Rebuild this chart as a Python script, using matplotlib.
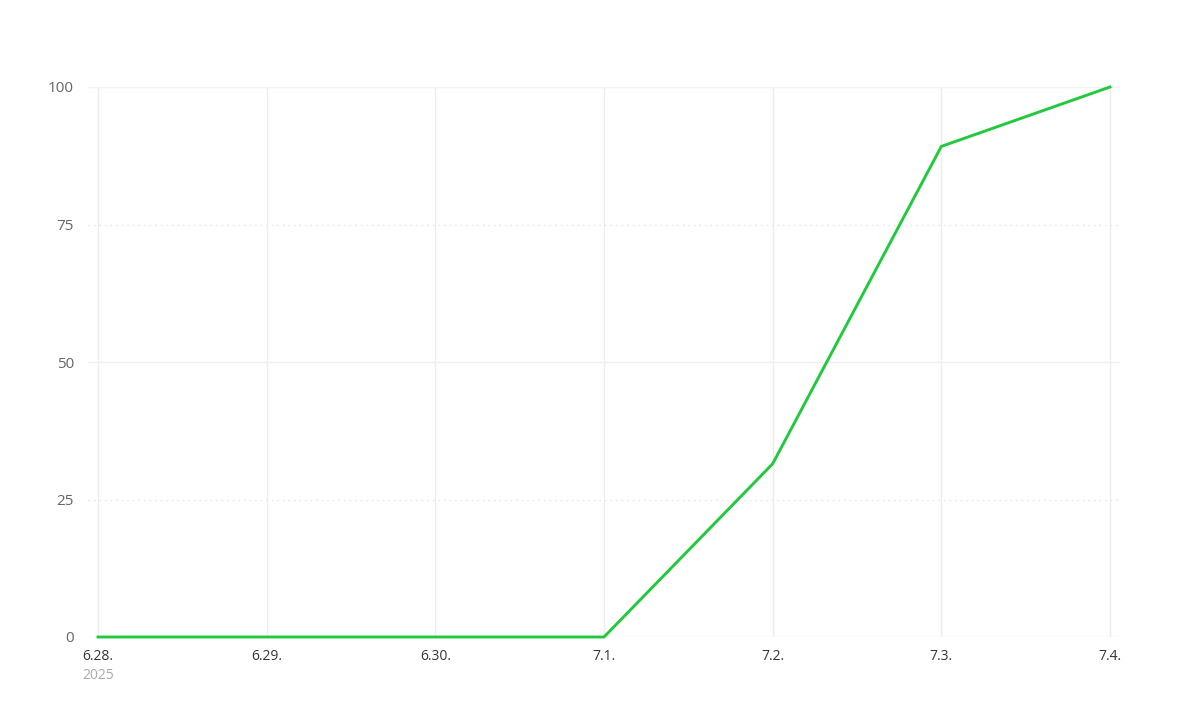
import matplotlib.pyplot as plt

dates = ["6.28.", "6.29.", "6.30.", "7.1.", "7.2.", "7.3.", "7.4."]
values = [0, 0, 0, 0, 31.5, 89.2, 100]
y_ticks = [0, 25, 50, 75, 100]

plt.rcParams['font.family'] = ['Open Sans', 'DejaVu Sans']

fig = plt.figure(figsize=(12, 7.05), dpi=100)
# data x 0..6 -> px 98..1110, y 0..100 -> px 637..87
x0, x1 = 88 / 1200, 1120 / 1200
y0, y1 = 1 - 637 / 705, 1 - 87 / 705
ax = fig.add_axes([x0, y0, x1 - x0, y1 - y0])

pad = 10 / ((1110 - 98) / 6)
ax.set_xlim(-pad, len(dates) - 1 + pad)
ax.set_ylim(0, 100)

xs = list(range(len(dates)))
for x in xs:
    ax.axvline(x, color="#ededed", lw=1, zorder=0)
for y in y_ticks:
    if y in (25, 75):
        ax.axhline(y, color="#e3e3e3", lw=1, ls=(0, (1, 3)), zorder=0)
    else:
        ax.axhline(y, color="#efefef", lw=1, zorder=0)

ax.plot(xs, values, color="#22c93f", lw=2.1, solid_joinstyle="miter", clip_on=False, zorder=3)

for s in ax.spines.values():
    s.set_visible(False)
ax.tick_params(length=0)
ax.set_yticks(y_ticks)
ax.set_yticklabels([str(v) for v in y_ticks], color="#666666", fontsize=11)
ax.tick_params(axis="y", pad=10)
ax.set_xticks(xs)
ax.set_xticklabels(dates, color="#333333", fontsize=10)
ax.tick_params(axis="x", pad=9)
ax.text(0, -0.056, "2025", transform=ax.get_xaxis_transform(), ha="center", va="top",
        color="#aaaaaa", fontsize=10)

fig.savefig("out.png", dpi=100)
